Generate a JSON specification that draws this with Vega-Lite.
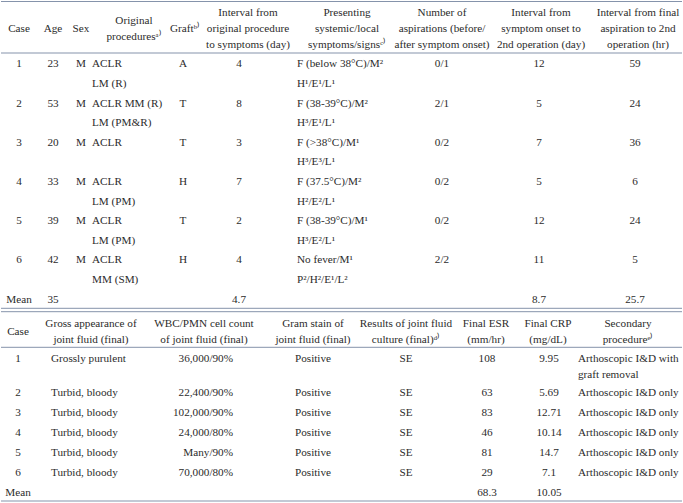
{
  "$schema": "https://vega.github.io/schema/vega-lite/v6.json",
  "width": 683,
  "height": 503,
  "autosize": {"type": "fit", "contains": "padding"},
  "padding": 0,
  "background": "white",
  "config": {
    "view": {"stroke": null},
    "text": {"font": "Liberation Serif", "fontSize": 11.2, "color": "#2b2b2b"}
  },
  "datasets": {
    "rules": [{"k": 0}, {"k": 1}, {"k": 2}, {"k": 3}, {"k": 4}, {"k": 5}],
    "cells": [
      {"part": "head", "line": 0, "col": 0, "text": "Case"},
      {"part": "head", "line": 0, "col": 1, "text": "Age"},
      {"part": "head", "line": 0, "col": 2, "text": "Sex"},
      {"part": "head", "line": 0, "col": 3, "text": "Original\nproceduresᵃ⁾"},
      {"part": "head", "line": 0, "col": 4, "text": "Graftᵇ⁾"},
      {"part": "head", "line": 0, "col": 5, "text": "Interval from\noriginal procedure\nto symptoms (day)"},
      {"part": "head", "line": 0, "col": 6, "text": "Presenting\nsystemic/local\nsymptoms/signsᶜ⁾"},
      {"part": "head", "line": 0, "col": 7, "text": "Number of\naspirations (before/\nafter symptom onset)"},
      {"part": "head", "line": 0, "col": 8, "text": "Interval from\nsymptom onset to\n2nd operation (day)"},
      {"part": "head", "line": 0, "col": 9, "text": "Interval from final\naspiration to 2nd\noperation (hr)"},
      {"part": "head", "line": 14, "col": 10, "text": "Case"},
      {"part": "head", "line": 14, "col": 11, "text": "Gross appearance of\njoint fluid (final)"},
      {"part": "head", "line": 14, "col": 12, "text": "WBC/PMN cell count\nof joint fluid (final)"},
      {"part": "head", "line": 14, "col": 13, "text": "Gram stain of\njoint fluid (final)"},
      {"part": "head", "line": 14, "col": 14, "text": "Results of joint fluid\nculture (final)ᵈ⁾"},
      {"part": "head", "line": 14, "col": 15, "text": "Final ESR\n(mm/hr)"},
      {"part": "head", "line": 14, "col": 16, "text": "Final CRP\n(mg/dL)"},
      {"part": "head", "line": 14, "col": 17, "text": "Secondary\nprocedureᵉ⁾"},

      {"part": "body", "line": 1, "col": 0, "text": "1"},
      {"part": "body", "line": 1, "col": 1, "text": "23"},
      {"part": "body", "line": 1, "col": 2, "text": "M"},
      {"part": "body", "line": 1, "col": 3, "text": "ACLR"},
      {"part": "body", "line": 1, "col": 4, "text": "A"},
      {"part": "body", "line": 1, "col": 5, "text": "4"},
      {"part": "body", "line": 1, "col": 6, "text": "F (below 38°C)/M²"},
      {"part": "body", "line": 1, "col": 7, "text": "0/1"},
      {"part": "body", "line": 1, "col": 8, "text": "12"},
      {"part": "body", "line": 1, "col": 9, "text": "59"},
      {"part": "body", "line": 2, "col": 3, "text": "LM (R)"},
      {"part": "body", "line": 2, "col": 6, "text": "H¹/E¹/L¹"},

      {"part": "body", "line": 3, "col": 0, "text": "2"},
      {"part": "body", "line": 3, "col": 1, "text": "53"},
      {"part": "body", "line": 3, "col": 2, "text": "M"},
      {"part": "body", "line": 3, "col": 3, "text": "ACLR MM (R)"},
      {"part": "body", "line": 3, "col": 4, "text": "T"},
      {"part": "body", "line": 3, "col": 5, "text": "8"},
      {"part": "body", "line": 3, "col": 6, "text": "F (38-39°C)/M²"},
      {"part": "body", "line": 3, "col": 7, "text": "2/1"},
      {"part": "body", "line": 3, "col": 8, "text": "5"},
      {"part": "body", "line": 3, "col": 9, "text": "24"},
      {"part": "body", "line": 4, "col": 3, "text": "LM (PM&R)"},
      {"part": "body", "line": 4, "col": 6, "text": "H³/E¹/L¹"},

      {"part": "body", "line": 5, "col": 0, "text": "3"},
      {"part": "body", "line": 5, "col": 1, "text": "20"},
      {"part": "body", "line": 5, "col": 2, "text": "M"},
      {"part": "body", "line": 5, "col": 3, "text": "ACLR"},
      {"part": "body", "line": 5, "col": 4, "text": "T"},
      {"part": "body", "line": 5, "col": 5, "text": "3"},
      {"part": "body", "line": 5, "col": 6, "text": "F (>38°C)/M¹"},
      {"part": "body", "line": 5, "col": 7, "text": "0/2"},
      {"part": "body", "line": 5, "col": 8, "text": "7"},
      {"part": "body", "line": 5, "col": 9, "text": "36"},
      {"part": "body", "line": 6, "col": 6, "text": "H³/E³/L¹"},

      {"part": "body", "line": 7, "col": 0, "text": "4"},
      {"part": "body", "line": 7, "col": 1, "text": "33"},
      {"part": "body", "line": 7, "col": 2, "text": "M"},
      {"part": "body", "line": 7, "col": 3, "text": "ACLR"},
      {"part": "body", "line": 7, "col": 4, "text": "H"},
      {"part": "body", "line": 7, "col": 5, "text": "7"},
      {"part": "body", "line": 7, "col": 6, "text": "F (37.5°C)/M²"},
      {"part": "body", "line": 7, "col": 7, "text": "0/2"},
      {"part": "body", "line": 7, "col": 8, "text": "5"},
      {"part": "body", "line": 7, "col": 9, "text": "6"},
      {"part": "body", "line": 8, "col": 3, "text": "LM (PM)"},
      {"part": "body", "line": 8, "col": 6, "text": "H²/E²/L¹"},

      {"part": "body", "line": 9, "col": 0, "text": "5"},
      {"part": "body", "line": 9, "col": 1, "text": "39"},
      {"part": "body", "line": 9, "col": 2, "text": "M"},
      {"part": "body", "line": 9, "col": 3, "text": "ACLR"},
      {"part": "body", "line": 9, "col": 4, "text": "T"},
      {"part": "body", "line": 9, "col": 5, "text": "2"},
      {"part": "body", "line": 9, "col": 6, "text": "F (38-39°C)/M¹"},
      {"part": "body", "line": 9, "col": 7, "text": "0/2"},
      {"part": "body", "line": 9, "col": 8, "text": "12"},
      {"part": "body", "line": 9, "col": 9, "text": "24"},
      {"part": "body", "line": 10, "col": 3, "text": "LM (PM)"},
      {"part": "body", "line": 10, "col": 6, "text": "H³/E²/L¹"},

      {"part": "body", "line": 11, "col": 0, "text": "6"},
      {"part": "body", "line": 11, "col": 1, "text": "42"},
      {"part": "body", "line": 11, "col": 2, "text": "M"},
      {"part": "body", "line": 11, "col": 3, "text": "ACLR"},
      {"part": "body", "line": 11, "col": 4, "text": "H"},
      {"part": "body", "line": 11, "col": 5, "text": "4"},
      {"part": "body", "line": 11, "col": 6, "text": "No fever/M¹"},
      {"part": "body", "line": 11, "col": 7, "text": "2/2"},
      {"part": "body", "line": 11, "col": 8, "text": "11"},
      {"part": "body", "line": 11, "col": 9, "text": "5"},
      {"part": "body", "line": 12, "col": 3, "text": "MM (SM)"},
      {"part": "body", "line": 12, "col": 6, "text": "P²/H²/E¹/L²"},

      {"part": "body", "line": 13, "col": 0, "text": "Mean"},
      {"part": "body", "line": 13, "col": 1, "text": "35"},
      {"part": "body", "line": 13, "col": 5, "text": "4.7"},
      {"part": "body", "line": 13, "col": 8, "text": "8.7"},
      {"part": "body", "line": 13, "col": 9, "text": "25.7"},

      {"part": "body", "line": 15, "col": 10, "text": "1"},
      {"part": "body", "line": 15, "col": 11, "text": "Grossly purulent"},
      {"part": "body", "line": 15, "col": 12, "text": "36,000/90%"},
      {"part": "body", "line": 15, "col": 13, "text": "Positive"},
      {"part": "body", "line": 15, "col": 14, "text": "SE"},
      {"part": "body", "line": 15, "col": 15, "text": "108"},
      {"part": "body", "line": 15, "col": 16, "text": "9.95"},
      {"part": "body", "line": 15, "col": 17, "text": "Arthoscopic I&D with"},
      {"part": "body", "line": 16, "col": 17, "text": "graft removal"},

      {"part": "body", "line": 17, "col": 10, "text": "2"},
      {"part": "body", "line": 17, "col": 11, "text": "Turbid, bloody"},
      {"part": "body", "line": 17, "col": 12, "text": "22,400/90%"},
      {"part": "body", "line": 17, "col": 13, "text": "Positive"},
      {"part": "body", "line": 17, "col": 14, "text": "SE"},
      {"part": "body", "line": 17, "col": 15, "text": "63"},
      {"part": "body", "line": 17, "col": 16, "text": "5.69"},
      {"part": "body", "line": 17, "col": 17, "text": "Arthoscopic I&D only"},

      {"part": "body", "line": 18, "col": 10, "text": "3"},
      {"part": "body", "line": 18, "col": 11, "text": "Turbid, bloody"},
      {"part": "body", "line": 18, "col": 12, "text": "102,000/90%"},
      {"part": "body", "line": 18, "col": 13, "text": "Positive"},
      {"part": "body", "line": 18, "col": 14, "text": "SE"},
      {"part": "body", "line": 18, "col": 15, "text": "83"},
      {"part": "body", "line": 18, "col": 16, "text": "12.71"},
      {"part": "body", "line": 18, "col": 17, "text": "Arthoscopic I&D only"},

      {"part": "body", "line": 19, "col": 10, "text": "4"},
      {"part": "body", "line": 19, "col": 11, "text": "Turbid, bloody"},
      {"part": "body", "line": 19, "col": 12, "text": "24,000/80%"},
      {"part": "body", "line": 19, "col": 13, "text": "Positive"},
      {"part": "body", "line": 19, "col": 14, "text": "SE"},
      {"part": "body", "line": 19, "col": 15, "text": "46"},
      {"part": "body", "line": 19, "col": 16, "text": "10.14"},
      {"part": "body", "line": 19, "col": 17, "text": "Arthoscopic I&D only"},

      {"part": "body", "line": 20, "col": 10, "text": "5"},
      {"part": "body", "line": 20, "col": 11, "text": "Turbid, bloody"},
      {"part": "body", "line": 20, "col": 12, "text": "Many/90%"},
      {"part": "body", "line": 20, "col": 13, "text": "Positive"},
      {"part": "body", "line": 20, "col": 14, "text": "SE"},
      {"part": "body", "line": 20, "col": 15, "text": "81"},
      {"part": "body", "line": 20, "col": 16, "text": "14.7"},
      {"part": "body", "line": 20, "col": 17, "text": "Arthoscopic I&D only"},

      {"part": "body", "line": 21, "col": 10, "text": "6"},
      {"part": "body", "line": 21, "col": 11, "text": "Turbid, bloody"},
      {"part": "body", "line": 21, "col": 12, "text": "70,000/80%"},
      {"part": "body", "line": 21, "col": 13, "text": "Positive"},
      {"part": "body", "line": 21, "col": 14, "text": "SE"},
      {"part": "body", "line": 21, "col": 15, "text": "29"},
      {"part": "body", "line": 21, "col": 16, "text": "7.1"},
      {"part": "body", "line": 21, "col": 17, "text": "Arthoscopic I&D only"},

      {"part": "body", "line": 22, "col": 10, "text": "Mean"},
      {"part": "body", "line": 22, "col": 15, "text": "68.3"},
      {"part": "body", "line": 22, "col": 16, "text": "10.05"}
    ]
  },
  "layer": [
    {
      "data": {"name": "rules"},
      "mark": {"type": "rule", "color": "#8593ab", "strokeWidth": 1},
      "encoding": {
        "y": {"field": "k", "type": "quantitative", "axis": null,
              "scale": {"domain": [0, 1, 2, 3, 4, 5], "range": [1.5, 53, 308.3, 311.7, 347.3, 501], "nice": false, "zero": false}}
      }
    },
    {
      "data": {"name": "cells"},
      "transform": [{"filter": {"and": [{"field": "part", "equal": "head"}, {"field": "col", "oneOf": [0, 1, 2, 4, 10]}]}}],
      "mark": {"type": "text", "align": "center", "baseline": "middle", "lineBreak": "\n", "lineHeight": 16.2},
      "encoding": {
        "x": {"field": "col", "type": "quantitative", "axis": null,
              "scale": {"domain": [0, 1, 2, 3, 4, 5, 6, 7, 8, 9, 10, 11, 12, 13, 14, 15, 16, 17],
                        "range": [18, 52, 80, 133, 184, 247, 346, 441, 540, 637, 17, 90, 203, 312, 405, 485, 547, 627], "nice": false, "zero": false}},
        "y": {"field": "line", "type": "quantitative", "axis": null,
              "scale": {"domain": [0, 1, 13, 14, 15, 16, 17, 22], "range": [29, 64.3, 299.5, 332, 359.3, 374.5, 393.3, 492.7], "nice": false, "zero": false}},
        "text": {"field": "text", "type": "nominal"}
      }
    },
    {
      "data": {"name": "cells"},
      "transform": [{"filter": {"and": [{"field": "part", "equal": "head"}, {"field": "col", "oneOf": [3, 11, 12, 13, 14, 15, 16, 17]}]}}],
      "mark": {"type": "text", "align": "center", "baseline": "middle", "lineBreak": "\n", "lineHeight": 16.6, "dy": -8.3},
      "encoding": {
        "x": {"field": "col", "type": "quantitative", "axis": null,
              "scale": {"domain": [0, 1, 2, 3, 4, 5, 6, 7, 8, 9, 10, 11, 12, 13, 14, 15, 16, 17],
                        "range": [18, 52, 80, 133, 184, 247, 346, 441, 540, 637, 17, 90, 203, 312, 405, 485, 547, 627], "nice": false, "zero": false}},
        "y": {"field": "line", "type": "quantitative", "axis": null,
              "scale": {"domain": [0, 1, 13, 14, 15, 16, 17, 22], "range": [29, 64.3, 299.5, 332, 359.3, 374.5, 393.3, 492.7], "nice": false, "zero": false}},
        "text": {"field": "text", "type": "nominal"}
      }
    },
    {
      "data": {"name": "cells"},
      "transform": [{"filter": {"and": [{"field": "part", "equal": "head"}, {"field": "col", "oneOf": [5, 6, 7, 8, 9]}]}}],
      "mark": {"type": "text", "align": "center", "baseline": "middle", "lineBreak": "\n", "lineHeight": 16.2, "dy": -16.2},
      "encoding": {
        "x": {"field": "col", "type": "quantitative", "axis": null,
              "scale": {"domain": [0, 1, 2, 3, 4, 5, 6, 7, 8, 9, 10, 11, 12, 13, 14, 15, 16, 17],
                        "range": [18, 52, 80, 133, 184, 247, 346, 441, 540, 637, 17, 90, 203, 312, 405, 485, 547, 627], "nice": false, "zero": false}},
        "y": {"field": "line", "type": "quantitative", "axis": null,
              "scale": {"domain": [0, 1, 13, 14, 15, 16, 17, 22], "range": [29, 64.3, 299.5, 332, 359.3, 374.5, 393.3, 492.7], "nice": false, "zero": false}},
        "text": {"field": "text", "type": "nominal"}
      }
    },
    {
      "data": {"name": "cells"},
      "transform": [{"filter": {"and": [{"field": "part", "equal": "body"}, {"field": "col", "oneOf": [0, 1, 2, 4, 5, 7, 8, 9, 10, 13, 14, 15, 16]}]}}],
      "mark": {"type": "text", "align": "center", "baseline": "middle"},
      "encoding": {
        "x": {"field": "col", "type": "quantitative", "axis": null,
              "scale": {"domain": [0, 1, 2, 3, 4, 5, 6, 7, 8, 9, 10, 11, 12, 13, 14, 15, 16, 17],
                        "range": [18, 52, 80, 91, 182, 238, 296, 441, 538, 634, 17, 50, 232, 312, 405, 486, 548, 577], "nice": false, "zero": false}},
        "y": {"field": "line", "type": "quantitative", "axis": null,
              "scale": {"domain": [0, 1, 13, 14, 15, 16, 17, 22], "range": [29, 64.3, 299.5, 332, 359.3, 374.5, 393.3, 492.7], "nice": false, "zero": false}},
        "text": {"field": "text", "type": "nominal"}
      }
    },
    {
      "data": {"name": "cells"},
      "transform": [{"filter": {"and": [{"field": "part", "equal": "body"}, {"field": "col", "oneOf": [3, 6, 11, 17]}]}}],
      "mark": {"type": "text", "align": "left", "baseline": "middle"},
      "encoding": {
        "x": {"field": "col", "type": "quantitative", "axis": null,
              "scale": {"domain": [0, 1, 2, 3, 4, 5, 6, 7, 8, 9, 10, 11, 12, 13, 14, 15, 16, 17],
                        "range": [18, 52, 80, 91, 182, 238, 296, 441, 538, 634, 17, 50, 232, 312, 405, 486, 548, 577], "nice": false, "zero": false}},
        "y": {"field": "line", "type": "quantitative", "axis": null,
              "scale": {"domain": [0, 1, 13, 14, 15, 16, 17, 22], "range": [29, 64.3, 299.5, 332, 359.3, 374.5, 393.3, 492.7], "nice": false, "zero": false}},
        "text": {"field": "text", "type": "nominal"}
      }
    },
    {
      "data": {"name": "cells"},
      "transform": [{"filter": {"and": [{"field": "part", "equal": "body"}, {"field": "col", "oneOf": [12]}]}}],
      "mark": {"type": "text", "align": "right", "baseline": "middle"},
      "encoding": {
        "x": {"field": "col", "type": "quantitative", "axis": null,
              "scale": {"domain": [0, 1, 2, 3, 4, 5, 6, 7, 8, 9, 10, 11, 12, 13, 14, 15, 16, 17],
                        "range": [18, 52, 80, 91, 182, 238, 296, 441, 538, 634, 17, 50, 232, 312, 405, 486, 548, 577], "nice": false, "zero": false}},
        "y": {"field": "line", "type": "quantitative", "axis": null,
              "scale": {"domain": [0, 1, 13, 14, 15, 16, 17, 22], "range": [29, 64.3, 299.5, 332, 359.3, 374.5, 393.3, 492.7], "nice": false, "zero": false}},
        "text": {"field": "text", "type": "nominal"}
      }
    }
  ],
  "resolve": {"scale": {"x": "independent", "y": "independent"}}
}
